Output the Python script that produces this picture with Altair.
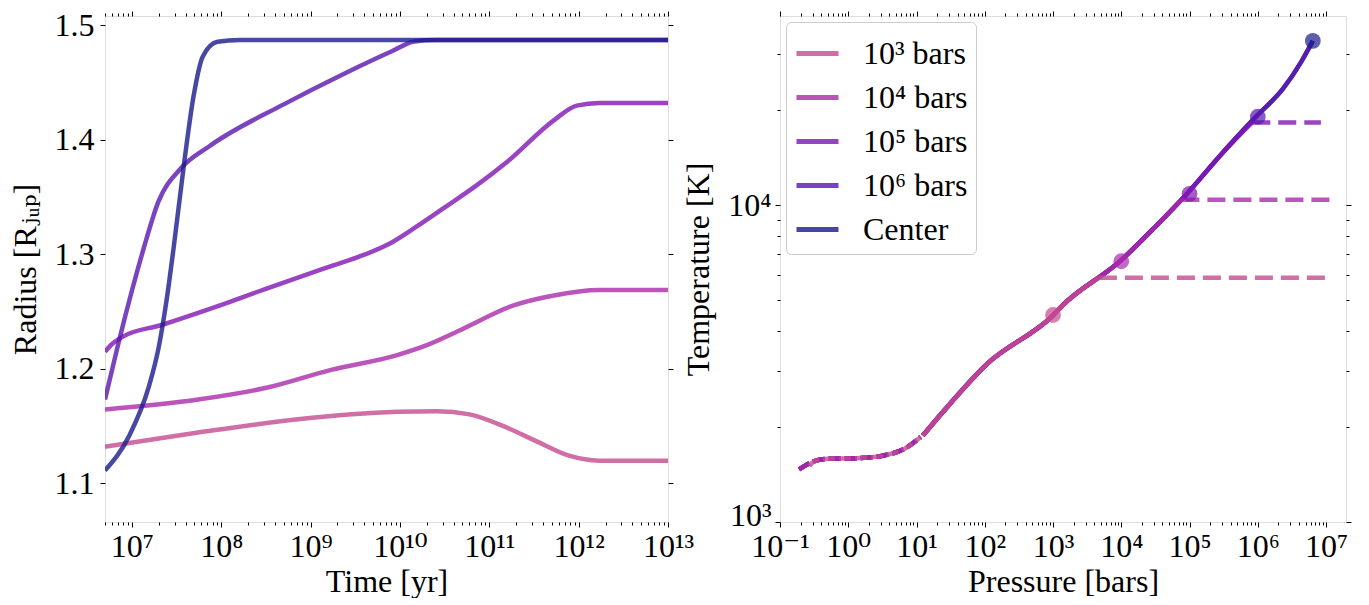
import altair as alt
import pandas as pd

FONT = "Liberation Serif, DejaVu Serif"
SERIES = ["10³ bars", "10⁴ bars", "10⁵ bars", "10⁶ bars", "Center"]
COLORS = ["#c44a90", "#aa2aaa", "#8115b4", "#5915af", "#1a1a8d"]

# ---------------- Left panel: radius vs time ----------------
time_1e3 = [5e6, 5.5e7, 7.2e8, 9.3e9, 2.6e10, 6.0e10, 1.42e11, 3.3e11, 7.8e11, 1.7e12, 1e13]
rad_1e3 = [1.1317, 1.1441, 1.1557, 1.1622, 1.1628, 1.1600, 1.1499, 1.1369, 1.1239, 1.1196, 1.1196]
time_1e4 = [5e6, 5.5e7, 3.1e8, 1.7e9, 9.3e9, 2.0e10, 5.1e10, 1.83e11, 5.1e11, 1.7e12, 1e13]
rad_1e4 = [1.1643, 1.1730, 1.1830, 1.1989, 1.2118, 1.2205, 1.2348, 1.2550, 1.2637, 1.2686, 1.2686]
time_1e5 = [5e6, 6.0e6, 7.8e6, 2.2e7, 8.5e7, 3.1e8, 1.7e9, 4.0e9, 8.0e9, 1.5e10, 3.2e10, 7.2e10,
            1.55e11, 5.4e11, 9.5e11, 1.7e12, 1e13]
rad_1e5 = [1.2147, 1.2215, 1.2277, 1.2383, 1.2536, 1.2694, 1.2895, 1.2995, 1.3100, 1.3235, 1.3410, 1.3600,
           1.3800, 1.4175, 1.4297, 1.4320, 1.4320]
time_1e6 = [5e6, 7.2e6, 1.0e7, 1.36e7, 1.98e7, 3.5e7, 7.5e7, 5.0e8, 2.5e9, 8.0e9, 1.45e10, 2.5e10, 1e13]
rad_1e6 = [1.1730, 1.2248, 1.2680, 1.3054, 1.3458, 1.3746, 1.3947, 1.4308, 1.4585, 1.4770, 1.4858, 1.4870, 1.4870]
time_ctr = [5e6, 9.3e6, 1.55e7, 2.0e7, 2.47e7, 2.93e7, 3.85e7, 4.9e7, 6.2e7, 9.1e7, 1.6e8, 1e13]
rad_ctr = [1.1110, 1.1412, 1.1844, 1.2190, 1.2622, 1.3054, 1.3800, 1.4380, 1.4725, 1.4855, 1.4870, 1.4870]

time_major = [1e7, 1e8, 1e9, 1e10, 1e11, 1e12, 1e13]
rad_major = [1.1, 1.2, 1.3, 1.4, 1.5]

# ---------------- Right panel: temperature vs pressure ----------------
pres_adiabat = [0.19, 0.32, 0.50, 1.5, 3.3, 6.6, 11.5, 12.4, 24.3, 108, 1.0e3, 1.36e3,
                9.5e3, 3.13e4, 9.1e4, 2.9e5, 9.4e5, 2.36e6, 4.3e6, 6.4e6]
temp_adiabat = [1465, 1556, 1582, 1592, 1622, 1700, 1855, 1874, 2223, 3155, 4490, 4810,
                6640, 8530, 10840, 14450, 19010, 23330, 28250, 32960]
prof_start_p = [0.27, 0.19, 0.19, 0.19, 0.19]
prof_start_t = [1500, 1465, 1465, 1465, 1465]
upper_atm_p = 11.5          # last pressure of the dashed upper-atmosphere part
iso_start_p = [4.7e3, 7.6e4, 8.3e5, None, None]
iso_temp = [5900, 10390, 18230, None, None]
iso_end_p = [1.23e7, 1.23e7, 8.4e6, None, None]
dot_p = [1e3, 1e4, 1e5, 1e6, 6.4e6]
dot_t = [4500, 6650, 10850, 19000, 32960]

pres_major = [1e-1, 1e0, 1e1, 1e2, 1e3, 1e4, 1e5, 1e6, 1e7]
temp_major = [1e3, 1e4]

# ---------------- tables ----------------
left_rows = []
for s, tt, rr in zip(SERIES, [time_1e3, time_1e4, time_1e5, time_1e6, time_ctr],
                     [rad_1e3, rad_1e4, rad_1e5, rad_1e6, rad_ctr]):
    for a, b in zip(tt, rr):
        left_rows.append({"x": a, "y": b, "series": s})
df_left = pd.DataFrame(left_rows)

low_rows, solid_rows, iso_rows, dot_rows = [], [], [], []
for i, s in enumerate(SERIES):
    low_rows.append({"x": prof_start_p[i], "y": prof_start_t[i], "series": s})
    for p, t in zip(pres_adiabat, temp_adiabat):
        if prof_start_p[i] < p <= upper_atm_p:
            low_rows.append({"x": p, "y": t, "series": s})
    for p, t in zip(pres_adiabat, temp_adiabat):
        if p > upper_atm_p and (iso_start_p[i] is None or p < iso_start_p[i]):
            solid_rows.append({"x": p, "y": t, "series": s})
    if iso_start_p[i] is not None:
        solid_rows.append({"x": iso_start_p[i], "y": iso_temp[i], "series": s})
        iso_rows.append({"x": iso_start_p[i], "y": iso_temp[i], "series": s})
        iso_rows.append({"x": iso_end_p[i], "y": iso_temp[i], "series": s})
    dot_rows.append({"x": dot_p[i], "y": dot_t[i], "series": s})
df_low = pd.DataFrame(low_rows)
# deepest profile drawn first, shallowest on top (as in the reference)
df_solid = pd.concat([pd.DataFrame([r for r in solid_rows if r["series"] == s])
                      for s in reversed(SERIES)], ignore_index=True)
df_iso = pd.DataFrame(iso_rows)
df_dot = pd.DataFrame(dot_rows)

# ---------------- axis helpers ----------------
SUP = {"0": "⁰", "1": "¹", "2": "²", "3": "³", "4": "⁴", "5": "⁵", "6": "⁶",
       "7": "⁷", "8": "⁸", "9": "⁹", "-": "⁻"}


def pow_expr(exps):
    expr = "''"
    for e in exps:
        lab = "10" + "".join(SUP[c] for c in str(e))
        expr = f"round(log(datum.value)/LN10) == {e} ? '{lab}' : ({expr})"
    return expr


def minor_ticks(decades, lo, hi):
    out = []
    for d in decades:
        for m in range(2, 10):
            v = m * d
            if lo <= v <= hi:
                out.append(v)
    return out


def axis(orient, values, size, labels=False, title=None, label_expr=None, fmt=None,
         title_pad=10, label_pad=4, **extra):
    kw = dict(orient=orient, values=values, tickSize=size, labels=labels, domain=False,
              grid=False, ticks=True, tickColor="black", tickWidth=1,
              labelFont=FONT, labelFontSize=32, labelColor="black",
              labelOverlap=False, labelFlush=False, labelPadding=label_pad)
    if title:
        kw.update(title=title, titleFont=FONT, titleFontSize=32, titleFontWeight="normal",
                  titleColor="black", titlePadding=title_pad)
    else:
        kw["title"] = None
    if label_expr:
        kw["labelExpr"] = label_expr
    if fmt:
        kw["format"] = fmt
    kw.update(extra)
    return alt.Axis(**kw)


MAJ, MIN = 5, 3
cscale = alt.Scale(domain=SERIES, range=COLORS)


def axis_layers(df, xs, ys, xaxes, yaxes):
    out = []
    for xa, ya in zip(xaxes, yaxes):
        out.append(alt.Chart(df).mark_line(opacity=0).encode(
            x=alt.X("x:Q", scale=xs, axis=xa),
            y=alt.Y("y:Q", scale=ys, axis=ya)))
    return out


def xy(xs, ys):
    return dict(x=alt.X("x:Q", scale=xs, axis=None), y=alt.Y("y:Q", scale=ys, axis=None))


# ---------------- left panel ----------------
xs_l = alt.Scale(type="log", domain=[5e6, 1e13], nice=False)
ys_l = alt.Scale(type="linear", domain=[1.066, 1.508], nice=False, zero=False)
t_minor = minor_ticks([1e6, 1e7, 1e8, 1e9, 1e10, 1e11, 1e12], 5e6, 1e13)

x_axes_l = [
    axis("bottom", time_major, MAJ, labels=True, title="Time [yr]",
         label_expr=pow_expr([7, 8, 9, 10, 11, 12, 13]), title_pad=4),
    axis("top", time_major, MAJ),
    axis("bottom", t_minor, MIN),
    axis("top", t_minor, MIN),
]
y_axes_l = [
    axis("left", rad_major, MAJ, labels=True, title="Radius [Rⱼᵤₚ]", fmt=".1f",
         title_pad=12, label_pad=6),
    axis("right", rad_major, MAJ),
    None,
    None,
]

left_lines = alt.Chart(df_left).mark_line(
    strokeWidth=4.5, opacity=0.8, interpolate="monotone", clip=True).encode(
    **xy(xs_l, ys_l),
    color=alt.Color("series:N", scale=cscale, legend=None),
)

left = alt.layer(*axis_layers(df_left, xs_l, ys_l, x_axes_l, y_axes_l), left_lines).resolve_axis(
    x="independent", y="independent").properties(width=563, height=506)

# ---------------- right panel ----------------
xs_r = alt.Scale(type="log", domain=[0.1, 1.96e7], nice=False)
ys_r = alt.Scale(type="log", domain=[1e3, 3.95e4], nice=False)
p_minor = minor_ticks([1e-1, 1e0, 1e1, 1e2, 1e3, 1e4, 1e5, 1e6, 1e7], 0.1, 1.96e7)
t_minor_r = minor_ticks([1e3, 1e4], 1e3, 3.95e4)

x_axes_r = [
    axis("bottom", pres_major, MAJ, labels=True, title="Pressure [bars]",
         label_expr=pow_expr([-1, 0, 1, 2, 3, 4, 5, 6, 7]), title_pad=4),
    axis("top", pres_major, MAJ),
    axis("bottom", p_minor, MIN),
    axis("top", p_minor, MIN),
]
y_axes_r = [
    axis("left", temp_major, MAJ, labels=True, title="Temperature [K]",
         label_expr=pow_expr([3, 4]), title_pad=12, label_pad=4,
         labelOffset={"condition": {"test": "datum.value < 2000", "value": -7}, "value": 0}),
    axis("right", temp_major, MAJ),
    axis("left", t_minor_r, MIN),
    axis("right", t_minor_r, MIN),
]

low_layers, iso_layers, dot_layers = [], [], []
for i, s in enumerate(SERIES):
    low_layers.append(alt.Chart(df_low[df_low["series"] == s]).mark_line(
        strokeWidth=4.5, opacity=0.8, strokeDash=[12, 4], color=COLORS[i],
        interpolate="monotone").encode(**xy(xs_r, ys_r)))
    sub_iso = df_iso[df_iso["series"] == s]
    if len(sub_iso):
        iso_layers.append(alt.Chart(sub_iso).mark_line(
            strokeWidth=4.5, opacity=0.8, strokeDash=[18, 8], color=COLORS[i]).encode(
            **xy(xs_r, ys_r)))
    dot_layers.append(alt.Chart(df_dot[df_dot["series"] == s]).mark_circle(
        size=250, opacity=0.7, color=COLORS[i]).encode(**xy(xs_r, ys_r)))

solid = alt.Chart(df_solid).mark_line(
    strokeWidth=4.5, opacity=0.8, interpolate="monotone").encode(
    **xy(xs_r, ys_r),
    color=alt.Color("series:N", scale=cscale, legend=alt.Legend(
        title=None, orient="top-left", offset=6, symbolType="stroke",
        symbolSize=1764, symbolStrokeWidth=5, labelFont=FONT, labelFontSize=32,
        labelColor="black", labelOffset=22, rowPadding=4, padding=8,
        strokeColor="#cccccc", fillColor="white", cornerRadius=5, labelLimit=400)),
)

right = alt.layer(*axis_layers(df_solid, xs_r, ys_r, x_axes_r, y_axes_r),
                  *reversed(low_layers), solid, *reversed(iso_layers),
                  *dot_layers).resolve_axis(
    x="independent", y="independent").properties(width=566, height=506)

chart = alt.hconcat(left, right, spacing=112, bounds="flush").resolve_scale(
    color="independent").resolve_legend(color="independent").properties(
    padding={"left": 0, "top": 0, "right": 0, "bottom": 0}
).configure_view(stroke="black", strokeWidth=1).configure(background="white")

chart.save("out.html", embed_options={"renderer": "svg", "actions": False})
